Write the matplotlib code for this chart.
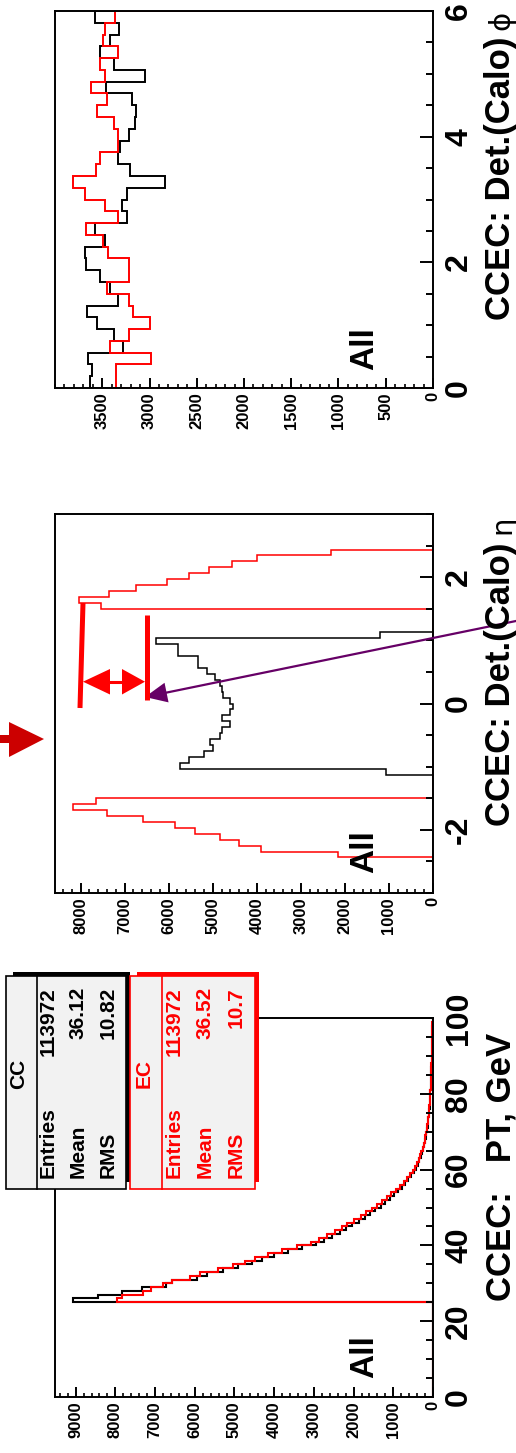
import numpy as np
import matplotlib
matplotlib.use("Agg")
import matplotlib.pyplot as plt
from matplotlib.patches import Rectangle, Polygon
from matplotlib.ticker import FixedLocator

# ---------------- data ----------------
# PT histogram: 1 GeV bins from 0 to 100 (bins 0..24 empty)
pt_edges = np.arange(0, 101, 1)
pt_cc = [0] * 25 + [
    9070, 8430, 7820, 7340, 6730, 6580, 5950, 5700, 5300, 4900,
    4550, 4300, 4000, 3650, 3300, 2950, 2750, 2540, 2350, 2180,
    2040, 1870, 1720, 1580, 1450, 1320, 1200, 1090, 980, 870,
    780, 700, 620, 550, 490, 430, 385, 345, 310, 280,
    250, 225, 200, 182, 166, 150, 137, 124, 114, 104,
    95, 88, 81, 75, 69, 63, 58, 54, 50, 46,
    42, 39, 36, 33, 30, 28, 26, 24, 22, 20,
    18, 16, 14, 12, 11]
pt_ec = [0] * 25 + [
    7970, 7820, 7300, 7090, 6800, 6580, 6120, 5870, 5420, 5040,
    4740, 4480, 4150, 3800, 3420, 3060, 2880, 2660, 2480, 2300,
    2170, 1980, 1820, 1680, 1540, 1420, 1290, 1170, 1050, 930,
    830, 740, 660, 580, 510, 450, 400, 360, 320, 290,
    260, 235, 210, 190, 175, 160, 145, 130, 120, 110,
    100, 92, 85, 78, 72, 66, 61, 56, 52, 48,
    44, 41, 38, 35, 32, 30, 27, 25, 23, 21,
    19, 17, 15, 13, 12]

# eta histogram: 64 bins from -3 to 3
eta_edges = np.linspace(-3, 3, 65)
eta_cc = [0] * 20 + [
    1070, 5750, 5530, 5200, 4990, 5060, 4840, 4800, 4610, 4800,
    4610, 4530, 4610, 4760, 4800, 4840, 4950, 5140, 5330, 5330,
    5780, 5780, 6280, 1200] + [0] * 20
eta_ec = [0] * 6 + [
    2150, 3910, 4400, 4840, 5400, 5860, 6590, 7410, 8170, 7650] + [0] * 32 + [
    7540, 8040, 7350, 6750, 6030, 5530, 5080, 4560, 3990, 2320] + [0] * 6

# phi histogram: 32 bins from 0 to 6
phi_edges = np.linspace(0, 6, 33)
phi_cc = [3630, 3610, 3650, 3280, 3380, 3560, 3660, 3330, 3420, 3520,
          3670, 3680, 3470, 3580, 3240, 3290, 3240, 2840, 3210, 3330,
          3310, 3220, 3150, 3140, 3190, 3460, 3050, 3380, 3520, 3420,
          3320, 3580]
phi_ec = [3350, 3350, 2980, 3420, 3220, 3000, 3170, 3220, 3450, 3220,
          3220, 3440, 3490, 3670, 3330, 3470, 3680, 3810, 3570, 3520,
          3330, 3330, 3380, 3560, 3450, 3620, 3470, 3520, 3330, 3490,
          3470, 3370]

# axis ticks / labels
pt_ticks = [0, 20, 40, 60, 80, 100]
eta_ticks = [-2, 0, 2]
phi_ticks = [0, 2, 4, 6]
pt_count_ticks = [0, 1000, 2000, 3000, 4000, 5000, 6000, 7000, 8000, 9000]
eta_count_ticks = [0, 1000, 2000, 3000, 4000, 5000, 6000, 7000, 8000]
phi_count_ticks = [0, 500, 1000, 1500, 2000, 2500, 3000, 3500]

stat_labels = ["Entries", "Mean", "RMS"]
cc_stats = ["113972", "36.12", "10.82"]
ec_stats = ["113972", "36.52", "10.7"]

RED = "#ff0000"
BLACK = "#000000"

# ---------------- figure ----------------
plt.rcParams["font.family"] = ["Liberation Sans", "DejaVu Sans"]
plt.rcParams["font.weight"] = "bold"

W, H = 516, 1453
fig = plt.figure(figsize=(W / 100, H / 100), dpi=100)


def add_panel(x0, x1, y0, y1):
    return fig.add_axes([x0 / W, 1 - y1 / H, (x1 - x0) / W, (y1 - y0) / H])


def setup(ax, edges, cc, ec, vmax, dticks, dminor, dlim, cticks, cminor, lw):
    ax.stairs(cc, edges, orientation="horizontal", baseline=0,
              color=BLACK, lw=lw)
    ax.stairs(ec, edges, orientation="horizontal", baseline=0,
              color=RED, lw=lw)
    ax.set_xlim(vmax, 0)
    ax.set_ylim(*dlim)
    for s in ax.spines.values():
        s.set_linewidth(1.4)
    # data axis (vertical, on the right)
    ax.yaxis.set_ticks_position("right")
    ax.set_yticks(dticks, [str(t) for t in dticks])
    ax.yaxis.set_minor_locator(FixedLocator(dminor))
    ax.tick_params(axis="y", which="both", direction="in", left=False,
                   right=True, labelleft=False, labelright=True)
    ax.tick_params(axis="y", which="major", length=9.5, width=1.4,
                   labelsize=23, pad=8, labelrotation=90)
    ax.tick_params(axis="y", which="minor", length=5, width=1.4)
    for t in ax.yaxis.get_major_ticks():
        t.label2.set_va("center")
        t.label2.set_ha("left")
    # count axis (horizontal, at the bottom)
    ax.set_xticks(cticks, [str(t) for t in cticks])
    ax.xaxis.set_minor_locator(FixedLocator(cminor))
    ax.tick_params(axis="x", which="both", direction="in", bottom=True,
                   top=False)
    ax.tick_params(axis="x", which="major", length=7, width=1.4,
                   labelsize=12, pad=3, labelrotation=90)
    ax.tick_params(axis="x", which="minor", length=3.2, width=1.2)


pt_ax = add_panel(55, 433, 1018, 1397)
setup(pt_ax, pt_edges, pt_cc, pt_ec, 9520, pt_ticks,
      np.arange(0, 101, 5), (0, 100), pt_count_ticks,
      np.arange(0, 9501, 200), 1.5)

eta_ax = add_panel(55, 433, 514, 893)
setup(eta_ax, eta_edges, eta_cc, eta_ec, 8580, eta_ticks,
      np.arange(-3, 3.01, 0.5), (-3, 3), eta_count_ticks,
      np.arange(0, 8501, 200), 1.1)

phi_ax = add_panel(55, 433, 11, 388)
setup(phi_ax, phi_edges, phi_cc, phi_ec, 4000, phi_ticks,
      np.arange(0, 6.01, 0.5), (0, 6), phi_count_ticks,
      np.arange(0, 4001, 100), 1.4)

# ---------------- overlay (pixel coordinates, y downward) ----------------
ov = fig.add_axes([0, 0, 1, 1])
ov.set_xlim(0, W)
ov.set_ylim(H, 0)
ov.axis("off")

# axis titles
tkw = dict(rotation=90, rotation_mode="anchor", ha="right", va="baseline",
           fontsize=25, fontweight="bold")
ov.text(510, 1033, "CCEC:   PT, GeV", **tkw)
ov.text(510, 543, "CCEC: Det.(Calo)", **tkw)
ov.text(510, 36, "CCEC: Det.(Calo)", **tkw)
skw = dict(rotation=90, rotation_mode="anchor", ha="right", va="baseline",
           fontsize=21, fontweight="normal", family="DejaVu Sans")
ov.text(510, 515, "\u03b7", **skw)
ov.text(509, 11, "\u03d5", **skw)

# "All" labels
for yc in (1357, 852, 349):
    ov.text(365, yc, "All", rotation=90, ha="center", va="center",
            fontsize=24, fontweight="bold")


# stats boxes
def stats_box(x0, x1, y0, y1, sep, color, title, tx, rows, values):
    ov.add_patch(Rectangle((x0 + 7, y0 - 4), x1 - x0 - 3, 4, facecolor=color,
                           edgecolor="none", zorder=3))
    ov.add_patch(Rectangle((x1, y0 - 4), 4, (y1 - y0) - 3, facecolor=color,
                           edgecolor="none", zorder=3))
    ov.add_patch(Rectangle((x0, y0), x1 - x0, y1 - y0, facecolor="#f2f2f2",
                           edgecolor=color, lw=1.2, zorder=4))
    ov.plot([sep, sep], [y0, y1], color=color, lw=1.2, zorder=5)
    ov.text(tx, (y0 + y1) / 2 - 9, title, rotation=90, ha="center",
            va="center", fontsize=15, fontweight="bold", color=color,
            zorder=6)
    for xr, lab, val in zip(rows, stat_labels, values):
        ov.text(xr, y1 - 11, lab, rotation=90, ha="center", va="bottom",
                fontsize=15, fontweight="bold", color=color, zorder=6)
        ov.text(xr, y0 + 11, val, rotation=90, ha="center", va="top",
                fontsize=15, fontweight="bold", color=color, zorder=6)


stats_box(6, 126, 976, 1189, 36.7, BLACK, "CC", 18.5,
          [48, 78.5, 108.5], cc_stats)
stats_box(130, 255, 976, 1189, 161.7, RED, "EC", 144,
          [174, 205, 236.5], ec_stats)

# red annotation on eta panel
ov.plot([83, 80], [603, 708], color=RED, lw=3.6, solid_capstyle="butt")
ov.plot([147, 147], [615, 700], color=RED, lw=3.6, solid_capstyle="butt")
ov.plot([105, 125], [681.7, 681.7], color=RED, lw=2.2)
ov.add_patch(Polygon([(83, 681.7), (110, 669), (110, 694.5)],
                     closed=True, color=RED, lw=0))
ov.add_patch(Polygon([(145, 681.7), (122, 669), (122, 694.5)],
                     closed=True, color=RED, lw=0))

# purple arrow
PURPLE = "#660066"
start = np.array([516.0, 621.0])
tip = np.array([145.0, 697.0])
d = (start - tip) / np.linalg.norm(start - tip)
perp = np.array([-d[1], d[0]])
base = tip + d * 22
ov.plot([start[0], base[0]], [start[1], base[1]], color=PURPLE, lw=1.6)
ov.add_patch(Polygon([tip, base + perp * 10, base - perp * 10], closed=True,
                     color=PURPLE, lw=0))

# big red arrow on the left
ov.add_patch(Polygon([(0, 735), (9, 735), (9, 722), (44, 739), (9, 757),
                      (9, 743), (0, 743)], closed=True, color="#cc0000", lw=0))

fig.savefig("out.png", dpi=100)
